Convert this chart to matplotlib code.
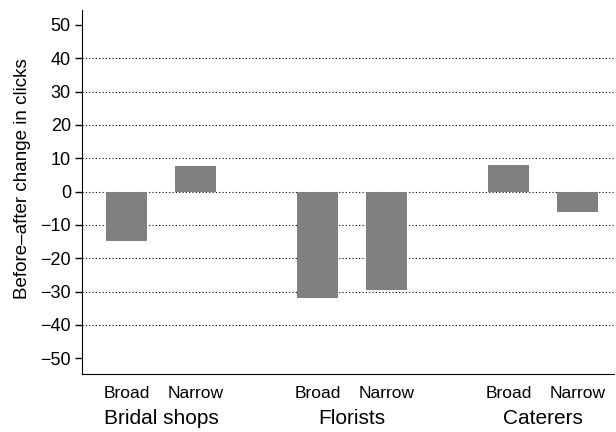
import numpy as np
import matplotlib.pyplot as plt
import matplotlib.transforms as mtransforms

plt.rcParams['font.family'] = ['Liberation Sans', 'DejaVu Sans']

# data
groups = ['Bridal shops', 'Florists', 'Caterers']
match_types = ['Broad', 'Narrow']
changes = [-14.7, 7.8, -31.8, -29.4, 8.1, -6.2]

group_gap = 2.772
x = []
for g in range(len(groups)):
    x.append(g * group_gap)
    x.append(g * group_gap + 1)
x = np.array(x)

fig = plt.figure(figsize=(6.16, 4.32), dpi=100)
ax = fig.add_axes([0.1331, 0.1343, 0.8639, 0.8426])

for yv in [-40, -30, -20, -10, 0, 10, 20, 30, 40]:
    ax.axhline(yv, color='black', linestyle=(0, (1, 2)), linewidth=0.8, zorder=1)

ax.bar(x, changes, width=0.594, color='#808080', zorder=2)

ax.set_xlim(-0.645, 7.07)
ax.set_ylim(-54.7, 54.5)
ax.set_yticks(np.arange(-50, 51, 10))
ax.tick_params(axis='y', labelsize=13, length=5, width=1, pad=3)
ax.set_xticks(x)
ax.set_xticklabels(match_types * len(groups), fontsize=12.5)
ax.tick_params(axis='x', length=0, pad=9)

ax.spines['top'].set_visible(False)
ax.spines['right'].set_visible(False)

ax.set_ylabel('Before\u2013after change in clicks', fontsize=13.5)
ax.yaxis.set_label_coords(-0.095, 0.538)

trans = mtransforms.blended_transform_factory(ax.transData, fig.transFigure)
for g, name in enumerate(groups):
    ax.text(g * group_gap + 0.5, 1 - 419 / 432, name, transform=trans,
            ha='center', va='center', fontsize=15)

fig.savefig('out.png', dpi=100)
